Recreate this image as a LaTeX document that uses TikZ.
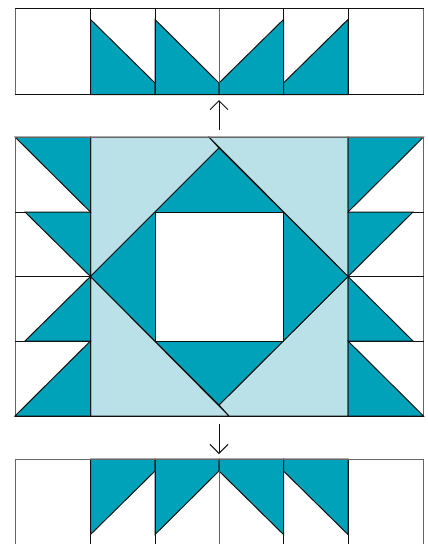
\documentclass[tikz,border=0pt]{standalone}
\usetikzlibrary{arrows.meta}
\definecolor{teal1}{HTML}{00A2B9}
\definecolor{pale}{HTML}{BAE1E7}
\definecolor{edge}{HTML}{111111}
\definecolor{soft}{HTML}{666666}
\tikzset{
  x=1pt,y=-1pt,
  seam/.style={draw=edge,line width=1pt,line join=miter},
  outer/.style={draw=soft,line width=1pt},
  dark/.style={fill=teal1,draw=edge,line width=1pt,line join=miter},
  light/.style={fill=pale,draw=edge,line width=1pt,line join=miter},
  blank/.style={fill=white,draw=edge,line width=1pt},
  pointer/.style={draw=edge,line width=1pt,-{Straight Barb[length=9pt,width=18pt,line width=1pt]}}
}
\begin{document}
\begin{tikzpicture}
\useasboundingbox (0,0) rectangle (428,544);
\clip (0,0) rectangle (428,544);
\fill[white] (0,0) rectangle (428,544);

% top strip
\fill[white] (15,8.5) rectangle (423.5,94.5);
\path[dark] (90.5,19.5) -- (155,83) -- (155,94.5) -- (90.5,94.5) -- cycle;
\path[dark] (155,19.5) -- (219,83) -- (219,94.5) -- (155,94.5) -- cycle;
\path[dark] (283.5,19.5) -- (219,83) -- (219,94.5) -- (283.5,94.5) -- cycle;
\path[dark] (348,19.5) -- (283.5,83) -- (283.5,94.5) -- (348,94.5) -- cycle;
\draw[outer] (15,8.5) -- (15,94.5);
\draw[outer] (423.5,8.5) -- (423.5,94.5);
\draw[outer] (219,8.5) -- (219,83);
\draw[seam] (90.5,8.5) -- (90.5,94.5) (155,8.5) -- (155,94.5) (283.5,8.5) -- (283.5,94.5) (348,8.5) -- (348,94.5);
\draw[seam] (15,8.5) -- (423.5,8.5) (15,94.5) -- (423.5,94.5);

% arrows
\coordinate (upS) at (219,130);
\coordinate (upE) at (219,100);
\coordinate (downS) at (219,424);
\coordinate (downE) at (219,454);
\draw[pointer] (upS) -- (upE);
\draw[pointer] (downS) -- (downE);

% centre block
\path[light] (90.5,137) -- (209,137) -- (219,148) -- (90.5,276.5) -- cycle;
\path[light] (209,137) -- (348,137) -- (348,276.5) -- cycle;
\path[light] (90.5,276.5) -- (229,416) -- (90.5,416) -- cycle;
\path[light] (348,276.5) -- (348,416) -- (229,416) -- (219,405) -- cycle;
\path[dark] (219,148) -- (348,276.5) -- (219,405) -- (90.5,276.5) -- cycle;
\path[blank] (155,212) rectangle (283.5,341);

% side rows
\draw[outer] (15,137) -- (15,416);
\draw[outer] (423.5,137) -- (423.5,416);
\draw[seam] (15,212) -- (90.5,212) (15,276.5) -- (90.5,276.5) (15,341) -- (90.5,341);
\draw[seam] (348,212) -- (423.5,212) (348,276.5) -- (423.5,276.5) (348,341) -- (423.5,341);
% left triangles
\path[dark] (15,137) -- (90.5,137) -- (90.5,212) -- cycle;
\path[dark] (25,212) -- (90.5,212) -- (90.5,276.5) -- cycle;
\path[dark] (25,341) -- (90.5,341) -- (90.5,276.5) -- cycle;
\path[dark] (15,416) -- (90.5,416) -- (90.5,341) -- cycle;
% right triangles
\path[dark] (348,137) -- (423.5,137) -- (348,212) -- cycle;
\path[dark] (348,212) -- (413,212) -- (348,276.5) -- cycle;
\path[dark] (348,276.5) -- (413,341) -- (348,341) -- cycle;
\path[dark] (348,341) -- (423.5,416) -- (348,416) -- cycle;
\draw[outer] (15,137) -- (423.5,137);
\draw[seam] (15,416) -- (423.5,416);

% bottom strip
\path[dark] (90.5,459) -- (155,459) -- (155,471) -- (90.5,534.5) -- cycle;
\path[dark] (155,459) -- (219,459) -- (219,471) -- (155,534.5) -- cycle;
\path[dark] (219,459) -- (283.5,459) -- (283.5,534.5) -- (219,471) -- cycle;
\path[dark] (283.5,459) -- (348,459) -- (348,534.5) -- (283.5,471) -- cycle;
\draw[outer] (15,459) -- (15,544);
\draw[outer] (423.5,459) -- (423.5,544);
\draw[outer] (219,471) -- (219,544);
\draw[seam] (90.5,459) -- (90.5,544) (155,459) -- (155,544) (283.5,459) -- (283.5,544) (348,459) -- (348,544);
\draw[outer] (15,459) -- (423.5,459);
\end{tikzpicture}
\end{document}
